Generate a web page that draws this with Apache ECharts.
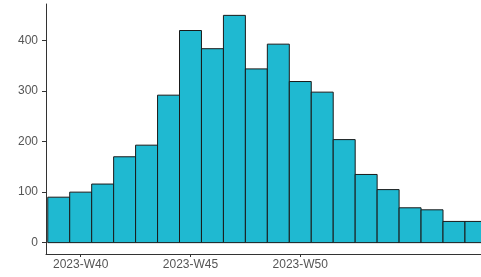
<!DOCTYPE html>
<html>
<head>
<meta charset="utf-8">
<script src="https://cdn.jsdelivr.net/npm/echarts@6/dist/echarts.min.js"></script>
<style>
html,body{margin:0;padding:0;background:#fff;}
#chart{width:481px;height:277px;}
</style>
</head>
<body>
<div id="chart"></div>
<script>
// Weekly bins (position index: 2023-W39 = 39, continuing past W52)
var weekLabels = ['2023-W39','2023-W40','2023-W41','2023-W42','2023-W43','2023-W44','2023-W45','2023-W46','2023-W47','2023-W48','2023-W49','2023-W50','2023-W51','2023-W52','2024-W01','2024-W02','2024-W03','2024-W04','2024-W05','2024-W06'];
var weekPos = [39,40,41,42,43,44,45,46,47,48,49,50,51,52,53,54,55,56,57,58];
var counts = [90,100,116,170,193,292,420,384,450,344,393,319,298,204,135,105,69,65,42,42];
var xTickPos = [40,45,50];
var xTickLabels = ['2023-W40','2023-W45','2023-W50'];
var yTicks = [0,100,200,300,400];

var data = weekPos.map(function(p,i){ return [p, counts[i], weekLabels[i]]; });

var chart = echarts.init(document.getElementById('chart'), null, {renderer:'canvas'});
chart.setOption({
  animation:false,
  backgroundColor:'#ffffff',
  grid:{left:46, top:4, right:0, height:250, containLabel:false},
  xAxis:{
    type:'value', min:38.42, max:58.23,
    splitLine:{show:false},
    axisLine:{show:true, onZero:false, lineStyle:{color:'#333333', width:1}},
    axisTick:{show:true, length:3, customValues:xTickPos, lineStyle:{color:'#333333'}},
    axisLabel:{show:true, customValues:xTickPos, color:'#555555', fontSize:12, fontFamily:'Liberation Sans, Arial', margin:5,
      formatter:function(v){ var k = xTickPos.indexOf(Math.round(v)); return k>=0 ? xTickLabels[k] : ''; }}
  },
  yAxis:{
    type:'value', min:-22.5, max:472.5,
    splitLine:{show:false},
    axisLine:{show:true, onZero:false, lineStyle:{color:'#333333', width:1}},
    axisTick:{show:true, length:4, customValues:yTicks, lineStyle:{color:'#333333'}},
    axisLabel:{show:true, customValues:yTicks, color:'#555555', fontSize:12, fontFamily:'Liberation Sans, Arial', margin:8}
  },
  series:[{
    type:'custom',
    clip:true,
    data:data,
    renderItem:function(params, api){
      var x = api.value(0), y = api.value(1);
      var p0 = api.coord([x-0.5, y]);
      var p1 = api.coord([x+0.5, 0]);
      return {
        type:'rect',
        shape:{x:p0[0], y:p0[1], width:p1[0]-p0[0], height:p1[1]-p0[1]},
        style:{fill:'#1FB9D1', stroke:'#1a1a1a', lineWidth:1}
      };
    }
  }]
});
</script>
</body>
</html>
